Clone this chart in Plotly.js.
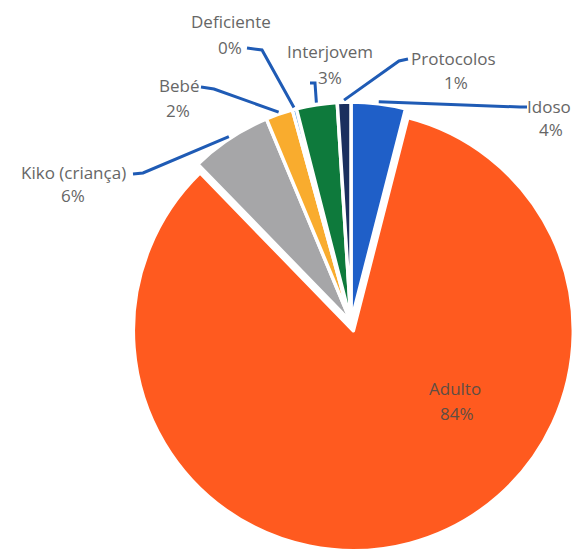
<!DOCTYPE html>
<html><head><meta charset="utf-8">
<script src="https://cdn.plot.ly/plotly-3.0.1.min.js"></script>
<style>html,body{margin:0;padding:0;overflow:hidden;background:#fff;width:572px;height:552px}#chart{width:600px;height:552px}</style>
</head><body><div id="chart"></div>
<script>
// ---- data ----
const categories = ['Idoso', 'Adulto', 'Kiko (criança)', 'Bebé', 'Deficiente', 'Interjovem', 'Protocolos'];
const values = [4, 84, 6, 2, 0.3, 3, 1];
const sliceColors = ['#1F5FC8', '#FF5A1F', '#A6A6A8', '#F9AC2E', '#3D8FE0', '#0E7A3C', '#1B2F5E'];
const pulls = [0, 0.041, 0, 0, 0, 0, 0];

// ---- layout geometry (pixels) ----
const W = 600, H = 552;
const cx = 351, cy = 322, r = 220;
const half = r * (1 + Math.max(...pulls));
const px = x => x / W, py = y => 1 - y / H;

// label placement: name centre, percent centre, leader start & elbow (pixels)
const labelPos = {
  'Idoso':          {name: [549, 107], pct: [551, 129], leader: [[527, 107], [520, 107]]},
  'Adulto':         {name: [455, 388], pct: [457, 413], leader: null},
  'Kiko (criança)': {name: [73, 172],  pct: [73, 195],  leader: [[133, 174], [143, 173]]},
  'Bebé':           {name: [179, 85],  pct: [178, 110], leader: [[201, 87], [214, 89]]},
  'Deficiente':     {name: [231, 21],  pct: [230, 47],  leader: [[247, 48], [262, 50]]},
  'Interjovem':     {name: [330, 52],  pct: [330, 78],  leader: [[310, 83], [315, 83]]},
  'Protocolos':     {name: [453, 58],  pct: [456, 82],  leader: [[408, 59], [399, 61]]}
};

const total = values.reduce((a, b) => a + b, 0);
const annotations = [], shapes = [];
const font = {family: '"Open Sans", sans-serif', size: 17};
let cum = 0;
categories.forEach((c, i) => {
  const mid = (cum + values[i] / 2) / total * 360;
  cum += values[i];
  const pos = labelPos[c];
  const col = c === 'Adulto' ? '#5E4E44' : '#666666';
  const pct = Math.round(values[i] / total * 100) + '%';
  annotations.push({text: c, x: px(pos.name[0]), y: py(pos.name[1]), xref: 'paper', yref: 'paper',
    xanchor: 'center', yanchor: 'middle', showarrow: false, font: Object.assign({color: col}, font)});
  annotations.push({text: pct, x: px(pos.pct[0]), y: py(pos.pct[1]), xref: 'paper', yref: 'paper',
    xanchor: 'center', yanchor: 'middle', showarrow: false, font: Object.assign({color: col}, font)});
  if (pos.leader) {
    const a = mid * Math.PI / 180;
    const ax = cx + (r + 2) * Math.sin(a), ay = cy - (r + 2) * Math.cos(a);
    const [s, e] = pos.leader;
    shapes.push({type: 'path', xref: 'paper', yref: 'paper', layer: 'above',
      path: `M ${px(s[0])} ${py(s[1])} L ${px(e[0])} ${py(e[1])} L ${px(ax)} ${py(ay)}`,
      line: {color: '#1F5BB5', width: 3}});
  }
});

const trace = {
  type: 'pie', labels: categories, values: values, sort: false, direction: 'clockwise', rotation: 0,
  pull: pulls, textinfo: 'none', hoverinfo: 'label+percent',
  marker: {colors: sliceColors, line: {color: '#ffffff', width: 3.5}},
  domain: {x: [(cx - half) / W, (cx + half) / W], y: [1 - (cy + half) / H, 1 - (cy - half) / H]},
  showlegend: false
};

Plotly.newPlot('chart', [trace], {
  width: W, height: H, margin: {l: 0, r: 0, t: 0, b: 0},
  paper_bgcolor: '#ffffff', plot_bgcolor: '#ffffff', showlegend: false,
  annotations: annotations, shapes: shapes
}, {displayModeBar: false, staticPlot: true});
</script>
</body></html>
